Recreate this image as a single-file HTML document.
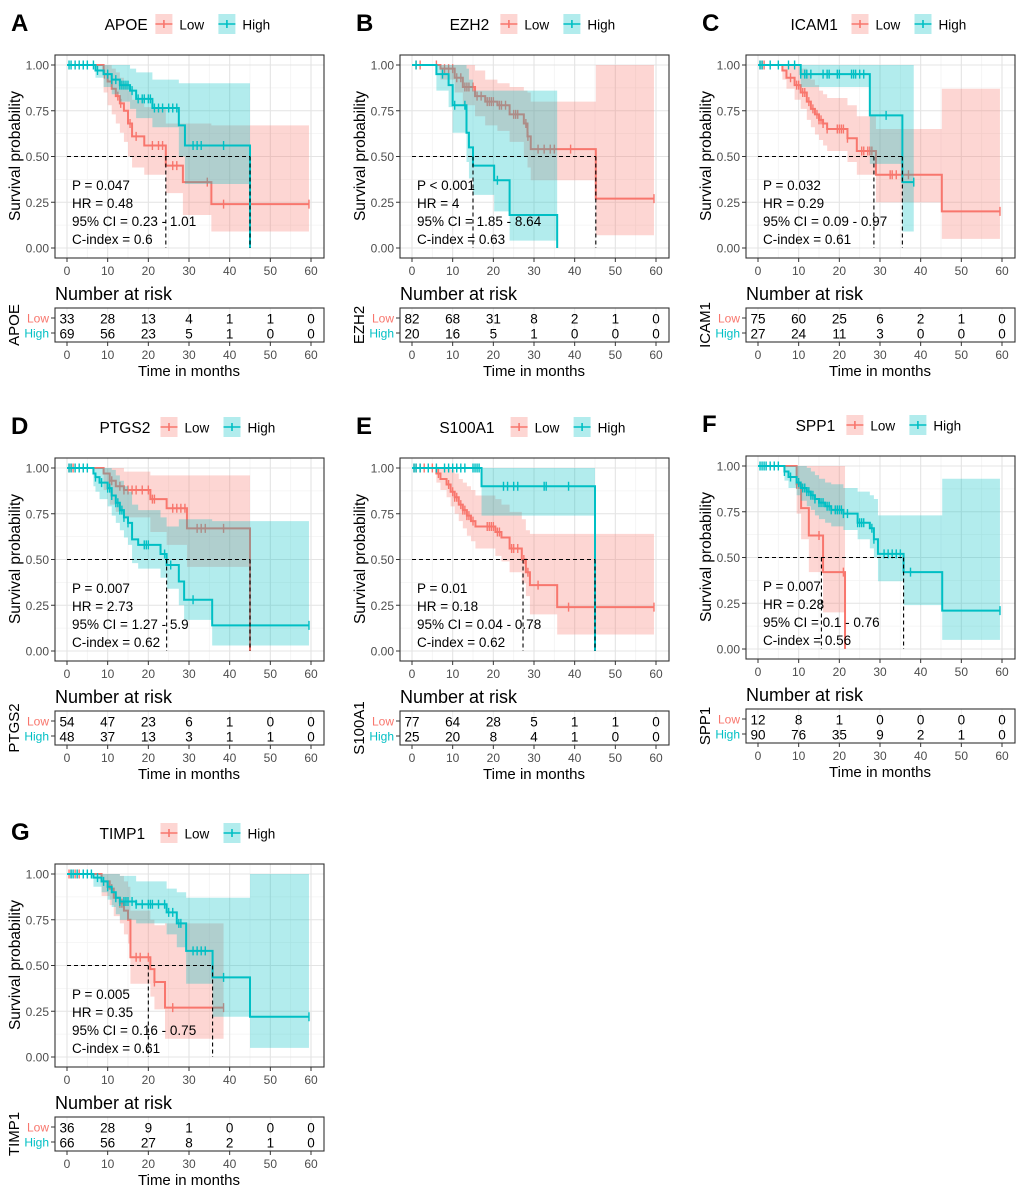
<!DOCTYPE html>
<html><head><meta charset="utf-8"><style>
html,body{margin:0;padding:0;background:#fff;}
svg{display:block;font-family:"Liberation Sans",Arial,sans-serif;}
</style></head><body>
<svg id="fig" width="1020" height="1192" viewBox="0 0 1020 1192"></svg>
<script>
// ---- data ----
const timeTicks=[0,10,20,30,40,50,60];
const survTicks=[0,0.25,0.5,0.75,1];
const survTickLabels=["0.00","0.25","0.50","0.75","1.00"];

const A_low_t=[0,9,10,11,12,13,14,15,16,19,24.3,28.5,35.5];
const A_low_s=[1,.95,.91,.87,.83,.79,.75,.68,.61,.56,.45,.36,.24];
const A_low_hi=[1,1,1,.98,.96,.93,.9,.86,.81,.77,.68,.68,.67];
const A_low_lo=[1,.85,.78,.73,.68,.63,.58,.5,.44,.4,.3,.18,.09];
const A_low_c=[9.2,12.5,13.2,15.5,17,21,22.5,23.5,26,27,34.5,38.5,59.5];
const A_low_end=59.5;
const A_high_t=[0,7,9,11,13,15.5,17,21,27.5,29,45];
const A_high_s=[1,.97,.95,.92,.89,.86,.815,.765,.67,.56,0];
const A_high_hi=[1,1,1,1,1,.98,.96,.92,.9,.9,.9];
const A_high_lo=[1,.93,.88,.84,.8,.76,.71,.66,.5,.35,0];
const A_high_c=[0.5,1,2,3,4,5,6.5,7.5,10,11,12,13,13.5,14,14.5,15,16,17.5,18.5,19,20,20.5,21.5,22.5,23.5,25,26,27,31,32,33,38.5];
const A_high_end=45;
const A_median=[24.3,45];
const A_risk_low=[33,28,13,4,1,1,0];
const A_risk_high=[69,56,23,5,1,0,0];
const A_stats=["P = 0.047","HR = 0.48","95% CI = 0.23 - 1.01","C-index = 0.6"];

const B_low_t=[0,7,10.5,12.5,15.5,18,21,24,27.5,28.4,29.2,45.2];
const B_low_s=[1,.98,.93,.88,.83,.8,.78,.73,.68,.61,.54,.27];
const B_low_hi=[1,1,1,1,.97,.92,.9,.88,.86,.85,.8,1];
const B_low_lo=[1,.92,.85,.78,.72,.67,.64,.58,.5,.44,.37,.07];
const B_low_c=[1,2,6,8,9,10,11,12,13,13.5,14,15,16,17,18.5,19,19.5,20,21.5,22,23,25,25.5,26,28,28.5,31,32.5,34,35,39,59.5];
const B_low_end=59.5;
const B_high_t=[0,6,9,10,13.4,14,15,20.2,24,35.7];
const B_high_s=[1,.95,.89,.78,.63,.55,.45,.37,.18,0];
const B_high_hi=[1,1,1,1,.98,.92,.86,.86,.86,.86];
const B_high_lo=[1,.86,.77,.63,.47,.38,.29,.2,.04,0];
const B_high_c=[1,7.5,10.5,13,21];
const B_high_end=35.7;
const B_median=[15,45.2];
const B_risk_low=[82,68,31,8,2,1,0];
const B_risk_high=[20,16,5,1,0,0,0];
const B_stats=["P < 0.001","HR = 4","95% CI = 1.85 - 8.64","C-index = 0.63"];

const C_low_t=[0,6,7,9,10.5,12,13,14,15,16,17,22,24.3,29,45.2];
const C_low_s=[1,.97,.93,.89,.85,.8,.76,.73,.7,.68,.65,.6,.53,.4,.2];
const C_low_hi=[1,1,1,1,.98,.95,.92,.89,.86,.84,.82,.78,.72,.65,.87];
const C_low_lo=[1,.92,.87,.81,.76,.7,.66,.62,.59,.56,.53,.47,.4,.25,.05];
const C_low_c=[0.5,1,1.5,8,9.5,10,11,11.5,12.5,13.5,14.5,15,15.5,16,17,19.5,20,20.5,21,22,25.5,26,27,27.5,28,32.5,33,34,37,59.5];
const C_low_end=59.5;
const C_high_t=[0,10.5,27.5,35.5];
const C_high_s=[1,.95,.725,.36];
const C_high_hi=[1,1,1,1];
const C_high_lo=[1,.88,.46,.09];
const C_high_c=[0.5,1,3,5,7.5,9,10.5,11.5,12,13,16,17,17.5,19.5,20,23,23.5,24,25,26,31.5,38.3];
const C_high_end=38.3;
const C_median=[28.5,35.5];
const C_risk_low=[75,60,25,6,2,1,0];
const C_risk_high=[27,24,11,3,0,0,0];
const C_stats=["P = 0.032","HR = 0.29","95% CI = 0.09 - 0.97","C-index = 0.61"];

const D_low_t=[0,9,10.5,12,14,20.5,24.5,29.5,45];
const D_low_s=[1,.97,.93,.9,.88,.83,.78,.67,0];
const D_low_hi=[1,1,1,1,.98,.96,.96,.96,.96];
const D_low_lo=[1,.88,.8,.76,.73,.65,.58,.46,0];
const D_low_c=[0.5,1,1.5,10.5,11,13,14,15,16,17,18.5,20,21,21.5,26,27,28,29,32,33,34,38.5];
const D_low_end=45;
const D_high_t=[0,6.5,7,8,10,11,12,13,14,15,16,17.5,23,24.5,27.5,28.8,35.7];
const D_high_s=[1,.97,.95,.92,.89,.85,.81,.77,.73,.7,.61,.58,.53,.47,.38,.28,.14];
const D_high_hi=[1,1,1,1,1,.99,.96,.93,.9,.87,.8,.77,.73,.68,.72,.72,.71];
const D_high_lo=[1,.9,.87,.83,.79,.74,.7,.66,.62,.58,.48,.45,.4,.34,.25,.17,.03];
const D_high_c=[0.5,1,2,3,4,5,7,8.5,10,10.5,11,12,12.5,13,13.5,14,15,19,19.5,20,24,25.5,31,59.5];
const D_high_end=59.5;
const D_median=[24.5,45];
const D_risk_low=[54,47,23,6,1,0,0];
const D_risk_high=[48,37,13,3,1,1,0];
const D_stats=["P = 0.007","HR = 2.73","95% CI = 1.27 - 5.9","C-index = 0.62"];

const E_low_t=[0,6,7,8.5,9.5,10.5,11.5,12.5,13.5,14.5,15.6,20.5,22,24,27,28,29,35.7];
const E_low_s=[1,.97,.94,.91,.87,.84,.8,.77,.74,.71,.68,.65,.62,.56,.5,.43,.36,.24];
const E_low_hi=[1,1,1,1,.99,.97,.94,.92,.9,.88,.85,.83,.8,.76,.72,.66,.64,.64];
const E_low_lo=[1,.92,.88,.84,.79,.75,.71,.67,.63,.6,.56,.52,.49,.43,.37,.3,.2,.09];
const E_low_c=[0.5,1,2,3,5,6.5,9,10,10.5,11,12,12.5,13,13.5,14,15,18.5,19,19.5,20,21,21.5,24.5,25,26,27.5,28.5,31,38.5,59.5];
const E_low_end=59.5;
const E_high_t=[0,17.1,45];
const E_high_s=[1,.9,0];
const E_high_hi=[1,1,1];
const E_high_lo=[1,.74,0];
const E_high_c=[0.5,1,2,4,6,8,9,10,11,12,13,15,15.5,16,16.5,22.5,23.5,25,26,32.5,33,38.5];
const E_high_end=45;
const E_median=[27.3,45];
const E_risk_low=[77,64,28,5,1,1,0];
const E_risk_high=[25,20,8,4,1,0,0];
const E_stats=["P = 0.01","HR = 0.18","95% CI = 0.04 - 0.78","C-index = 0.62"];

const F_low_t=[0,9.5,10.6,12.5,16,21.4];
const F_low_s=[1,.9,.77,.62,.42,0];
const F_low_hi=[1,1,1,1,1,1];
const F_low_lo=[1,.74,.6,.42,.2,0];
const F_low_c=[9.5,10,15,21];
const F_low_end=21.4;
const F_high_t=[0,6.5,7.5,9.5,10.5,12,13,14,15,16.5,18,21,24.5,27.5,28.5,29.5,35.8,45.3];
const F_high_s=[1,.97,.94,.91,.88,.86,.84,.82,.8,.78,.76,.74,.69,.66,.6,.52,.42,.21];
const F_high_hi=[1,1,1,1,1,.99,.97,.95,.93,.91,.9,.88,.86,.84,.82,.73,.73,.93];
const F_high_lo=[1,.92,.88,.84,.81,.78,.76,.73,.71,.69,.67,.65,.6,.55,.5,.37,.24,.05];
const F_high_c=[0.5,1,1.5,2,3,4,5,6.5,8,10,11,11.5,12,12.5,13,13.5,14,15,15.5,16,17,17.5,18,19,19.5,20,20.5,21,22,24.5,25,25.5,26,28,28.5,31,32,33,34,35,37.5,59.5];
const F_high_end=59.5;
const F_median=[15.6,35.8];
const F_risk_low=[12,8,1,0,0,0,0];
const F_risk_high=[90,76,35,9,2,1,0];
const F_stats=["P = 0.007","HR = 0.28","95% CI = 0.1 - 0.76","C-index = 0.56"];

const G_low_t=[0,8.5,10.5,11.5,13,14,15,15.6,20.5,21.5,24.1];
const G_low_s=[1,.96,.92,.87,.84,.8,.75,.545,.48,.41,.27];
const G_low_hi=[1,1,1,1,.99,.96,.93,.8,.75,.72,.73];
const G_low_lo=[1,.88,.83,.77,.73,.67,.62,.4,.33,.26,.1];
const G_low_c=[0.5,1,2,3,11,13,13.5,17,18,20,21.5,26,38.5];
const G_low_end=38.5;
const G_high_t=[0,6.5,8.5,10,11,12,13,17,24.5,27,29.3,35.8,45];
const G_high_s=[1,.98,.96,.93,.9,.87,.85,.835,.79,.73,.58,.435,.22];
const G_high_hi=[1,1,1,1,1,1,.99,.96,.92,.9,.87,.87,1];
const G_high_lo=[1,.93,.9,.86,.82,.78,.75,.73,.67,.6,.4,.22,.05];
const G_high_c=[1,1.5,2.5,4,5,6,7.5,9,10,12,13,14,14.5,15,16,17,18.5,20,20.5,21,22.5,24,25,26,27.5,28,31,32,33,34,38.5,59.5];
const G_high_end=59.5;
const G_median=[20,35.8];
const G_risk_low=[36,28,9,1,0,0,0];
const G_risk_high=[66,56,27,8,2,1,0];
const G_stats=["P = 0.005","HR = 0.35","95% CI = 0.16 - 0.75","C-index = 0.61"];

const RED="#F8766D", TEAL="#00BFC4";
const NS="http://www.w3.org/2000/svg";
const svg=document.getElementById('fig');

function mk(tag,attrs,parent,text){
  const e=document.createElementNS(NS,tag);
  for(const k in attrs) e.setAttribute(k,attrs[k]);
  if(text!==undefined) e.textContent=text;
  parent.appendChild(e); return e;
}
const X0=67, XW=244, Y0=248, YH=183;
function xs(t){return X0+t*XW/60;}
function ys(s){return Y0-s*YH;}
function stepAt(t,ts,ss){let v=ss[0];for(let i=0;i<ts.length;i++){if(ts[i]<=t)v=ss[i];}return v;}

function drawCurve(g,ts,ss,lo,hi,cens,end,col,name){
  let d="";
  for(let i=0;i<ts.length;i++){
    if(ss[i]<=0) continue;
    const t1=(i+1<ts.length)?ts[i+1]:end;
    if(t1<=ts[i]) continue;
    d+="M"+xs(ts[i])+","+ys(hi[i])+"H"+xs(t1)+"V"+ys(lo[i])+"H"+xs(ts[i])+"Z";
  }
  const band=mk('path',{d:d,fill:col,'fill-opacity':0.3,stroke:'none'},g);
  
  
  let p="M"+xs(0)+","+ys(1);
  for(let i=1;i<ts.length;i++){p+="H"+xs(ts[i])+"V"+ys(ss[i]);}
  if(ss[ss.length-1]>0) p+="H"+xs(end);
  const line=mk('path',{d:p,fill:'none',stroke:col,'stroke-width':2},g);
  
  
  let cd="";
  cens.forEach(t=>{const s=stepAt(t,ts,ss);cd+="M"+xs(t)+","+(ys(s)-4.5)+"V"+(ys(s)+4.5);});
  const cm=mk('path',{d:cd,stroke:col,'stroke-width':1.4,fill:'none'},g);
  
  
}

function panel(letter,gene,ox,oy,P){
  const g=mk('g',{transform:`translate(${ox},${oy})`},svg);
  
  
  const lt=mk('text',{x:11,y:31,'font-size':24,'font-weight':'bold',fill:'#000'},g,letter);
  
  
  const tw=gene.length*10.2;
  const total=tw+10+17+8+28+10+17+8+32;
  let lx=190-total/2;
  const leg=mk('g',{},g);
  
  
  mk('text',{x:lx,y:30,'font-size':15.5,fill:'#000'},leg,gene);
  lx+=tw+10;
  mk('rect',{x:lx,y:14,width:17,height:20,fill:RED,'fill-opacity':0.3},leg);
  mk('path',{d:`M${lx},24H${lx+17}M${lx+8.5},20V28`,stroke:RED,'stroke-width':1.6},leg);
  const l1=mk('text',{x:lx+24,y:29.5,'font-size':13.5,fill:'#000'},leg,'Low');
  
  
  lx+=17+8+28+10;
  mk('rect',{x:lx,y:14,width:17,height:20,fill:TEAL,'fill-opacity':0.3},leg);
  mk('path',{d:`M${lx},24H${lx+17}M${lx+8.5},20V28`,stroke:TEAL,'stroke-width':1.6},leg);
  const l2=mk('text',{x:lx+24,y:29.5,'font-size':13.5,fill:'#000'},leg,'High');
  
  
  mk('rect',{x:55,y:55,width:269,height:203,fill:'#fff'},g);
  let gd="",gm="";
  timeTicks.forEach(t=>{gd+=`M${xs(t)},55V258`; if(t<60) gm+=`M${xs(t+5)},55V258`;});
  survTicks.forEach(s=>{gd+=`M55,${ys(s)}H324`; if(s<1) gm+=`M55,${ys(s+0.125)}H324`;});
  mk('path',{d:gm,stroke:'#f3f3f3','stroke-width':0.8},g);
  const grid=mk('path',{d:gd,stroke:'#e4e4e4','stroke-width':1.1},g);
  
  
  drawCurve(g,P.lt,P.ls,P.llo,P.lhi,P.lc,P.lend,RED,'low');
  drawCurve(g,P.ht,P.hs,P.hlo,P.hhi,P.hc,P.hend,TEAL,'high');
  const mx=Math.max(...P.med);
  let md=`M${xs(0)},${ys(0.5)}H${xs(mx)}`;
  P.med.forEach(m=>{md+=`M${xs(m)},${ys(0.5)}V${ys(0)}`;});
  const ml=mk('path',{d:md,stroke:'#000','stroke-width':1.1,'stroke-dasharray':'4,3',fill:'none'},g);
  
  
  mk('rect',{x:55,y:55,width:269,height:203,fill:'none',stroke:'#333','stroke-width':1.1},g);
  const sy=[190,208,226,244];
  P.stats.forEach((s,i)=>{
    const st=mk('text',{x:72,y:sy[i],'font-size':13.5,fill:'#000'},g,s);
    
    
  });
  survTicks.forEach((s,i)=>{
    mk('path',{d:`M51,${ys(s)}H55`,stroke:'#333'},g);
    const tl=mk('text',{x:49,y:ys(s)+4.5,'font-size':12,fill:'#4d4d4d','text-anchor':'end'},g,survTickLabels[i]);
    
    
  });
  const yt=mk('text',{x:0,y:0,'font-size':15.5,fill:'#000','text-anchor':'middle',transform:'translate(20,156) rotate(-90)'},g,'Survival probability');
  
  
  timeTicks.forEach(t=>{
    mk('path',{d:`M${xs(t)},258V262`,stroke:'#333'},g);
    const tl=mk('text',{x:xs(t),y:275,'font-size':12,fill:'#4d4d4d','text-anchor':'middle'},g,String(t));
    
    
  });
  const nr=mk('text',{x:55,y:300,'font-size':18,fill:'#000'},g,'Number at risk');
  
  
  let rg="";timeTicks.forEach(t=>{rg+=`M${xs(t)},308V342`;});
  mk('path',{d:rg,stroke:'#eeeeee'},g);
  const tb=mk('rect',{x:55,y:308,width:269,height:34,fill:'none',stroke:'#333','stroke-width':1.1},g);
  
  
  const rows=[[P.rl,322,RED,'Low'],[P.rh,337,TEAL,'High']];
  rows.forEach(r=>{
    r[0].forEach((n,i)=>{
      const c=mk('text',{x:xs(timeTicks[i]),y:r[1]+1.5,'font-size':13.5,fill:'#000','text-anchor':'middle'},g,String(n));
      
      
    });
    mk('path',{d:`M51,${r[1]-4}H55`,stroke:'#333'},g);
    const rl=mk('text',{x:49,y:r[1]+0.5,'font-size':12,fill:r[2],'text-anchor':'end'},g,r[3]);
    
    
  });
  const gn=mk('text',{x:0,y:0,'font-size':15,fill:'#000','text-anchor':'middle',transform:'translate(19,325) rotate(-90)'},g,gene);
  
  
  timeTicks.forEach(t=>{
    mk('path',{d:`M${xs(t)},342V346`,stroke:'#333'},g);
    const tl=mk('text',{x:xs(t),y:359,'font-size':12,fill:'#4d4d4d','text-anchor':'middle'},g,String(t));
    
    
  });
  const xt=mk('text',{x:189,y:376,'font-size':15,fill:'#000','text-anchor':'middle'},g,'Time in months');
  
  
}

panel('A','APOE',0,0,{lt:A_low_t,ls:A_low_s,llo:A_low_lo,lhi:A_low_hi,lc:A_low_c,lend:A_low_end,ht:A_high_t,hs:A_high_s,hlo:A_high_lo,hhi:A_high_hi,hc:A_high_c,hend:A_high_end,med:A_median,rl:A_risk_low,rh:A_risk_high,stats:A_stats});
panel('B','EZH2',345,0,{lt:B_low_t,ls:B_low_s,llo:B_low_lo,lhi:B_low_hi,lc:B_low_c,lend:B_low_end,ht:B_high_t,hs:B_high_s,hlo:B_high_lo,hhi:B_high_hi,hc:B_high_c,hend:B_high_end,med:B_median,rl:B_risk_low,rh:B_risk_high,stats:B_stats});
panel('C','ICAM1',691,0,{lt:C_low_t,ls:C_low_s,llo:C_low_lo,lhi:C_low_hi,lc:C_low_c,lend:C_low_end,ht:C_high_t,hs:C_high_s,hlo:C_high_lo,hhi:C_high_hi,hc:C_high_c,hend:C_high_end,med:C_median,rl:C_risk_low,rh:C_risk_high,stats:C_stats});
panel('D','PTGS2',0,403,{lt:D_low_t,ls:D_low_s,llo:D_low_lo,lhi:D_low_hi,lc:D_low_c,lend:D_low_end,ht:D_high_t,hs:D_high_s,hlo:D_high_lo,hhi:D_high_hi,hc:D_high_c,hend:D_high_end,med:D_median,rl:D_risk_low,rh:D_risk_high,stats:D_stats});
panel('E','S100A1',345,403,{lt:E_low_t,ls:E_low_s,llo:E_low_lo,lhi:E_low_hi,lc:E_low_c,lend:E_low_end,ht:E_high_t,hs:E_high_s,hlo:E_high_lo,hhi:E_high_hi,hc:E_high_c,hend:E_high_end,med:E_median,rl:E_risk_low,rh:E_risk_high,stats:E_stats});
panel('F','SPP1',691,401,{lt:F_low_t,ls:F_low_s,llo:F_low_lo,lhi:F_low_hi,lc:F_low_c,lend:F_low_end,ht:F_high_t,hs:F_high_s,hlo:F_high_lo,hhi:F_high_hi,hc:F_high_c,hend:F_high_end,med:F_median,rl:F_risk_low,rh:F_risk_high,stats:F_stats});
panel('G','TIMP1',0,809,{lt:G_low_t,ls:G_low_s,llo:G_low_lo,lhi:G_low_hi,lc:G_low_c,lend:G_low_end,ht:G_high_t,hs:G_high_s,hlo:G_high_lo,hhi:G_high_hi,hc:G_high_c,hend:G_high_end,med:G_median,rl:G_risk_low,rh:G_risk_high,stats:G_stats});
</script>
</body></html>
